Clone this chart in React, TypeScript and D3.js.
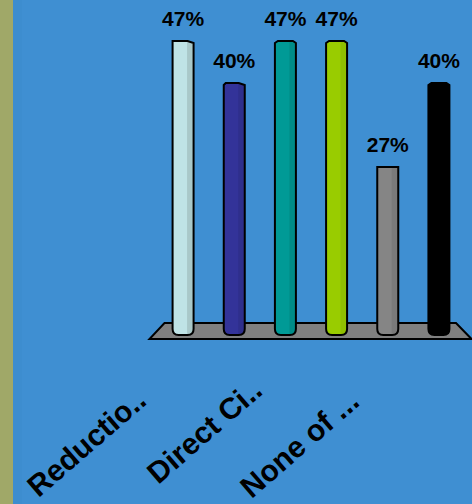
import React from "react";
import * as d3 from "d3";

const categories = ["Reductio..", "Cat 2", "Direct Ci..", "Cat 4", "None of ...", "Cat 6"];
const values = [46.67, 40, 46.67, 46.67, 26.67, 40];
const axisLabels = ["Reductio..", "", "Direct Ci..", "", "None of ...", ""];
const fills = ["#bfe3e6", "#333399", "#009a96", "#99cc00", "#858585", "#000000"];
const shades = ["#a9c8c9", "#2f2f8c", "#008c88", "#8fbf00", "#7a7a7a", "#000000"];

const W = 472, H = 504;
const labelEnds = [[148, 403], [], [264, 393], [], [361, 404], []];
const leftChamfer = [0, 2, 3, 3, 0, 3];
const rightChamfer = [6, 6, 3, 3, 0, 3];

export default function App() {
  const x = d3.scaleBand<number>().domain(d3.range(6)).range([157.5, 464.5]).paddingInner(0.6).paddingOuter(0.3);
  const y = d3.scaleLinear().domain([0, 46.67]).range([335, 41]);
  const fmt = (v: number) => d3.format(".0f")(v) + "%";
  const bw = 21;
  return (
    <svg width={W} height={H} style={{ position: "fixed", left: 0, top: 0, background: "#3f8fd2" }} fontFamily="Liberation Sans, Arial, sans-serif">
      <rect x={0} y={0} width={13} height={H} fill="#a0a868" />
      <rect x={13} y={0} width={9} height={H} fill="#3d8dcf" />
      <path d="M164.5,323 L456,323 L471.5,339 L149.5,339 Z" fill="#808080" stroke="#000" strokeWidth={2} strokeLinejoin="miter" />
      {values.map((v, i) => {
        const cx = x(i)! + x.bandwidth() / 2;
        const l = cx - bw / 2, r = cx + bw / 2, t = y(v), b = y(0);
        const lc = leftChamfer[i], rc = rightChamfer[i];
        const outline = `M${l},${t + (lc ? 2 : 0)} L${l + lc},${t} L${r - rc},${t} L${r},${t + (rc ? 2 : 0)} L${r},${b - 6} Q${r},${b} ${r - 6},${b} L${l + 6},${b} Q${l},${b} ${l},${b - 6} Z`;
        const clip = `c${i}`;
        return (
          <g key={categories[i]}>
            <clipPath id={clip}><path d={outline} /></clipPath>
            <path d={outline} fill={fills[i]} />
            <rect x={cx + 4} y={t} width={8} height={b - t} fill={shades[i]} clipPath={`url(#${clip})`} />
            <path d={outline} fill="none" stroke="#000" strokeWidth={2} />
            <text x={cx} y={t - 15} textAnchor="middle" fontWeight="bold" fontSize={21} fill="#000">{fmt(v)}</text>
            {axisLabels[i] && (
              <text transform={`translate(${labelEnds[i][0]},${labelEnds[i][1]}) rotate(-41)`} textAnchor="end" fontWeight="bold" fontSize={30} fill="#000">{axisLabels[i]}</text>
            )}
          </g>
        );
      })}
    </svg>
  );
}
